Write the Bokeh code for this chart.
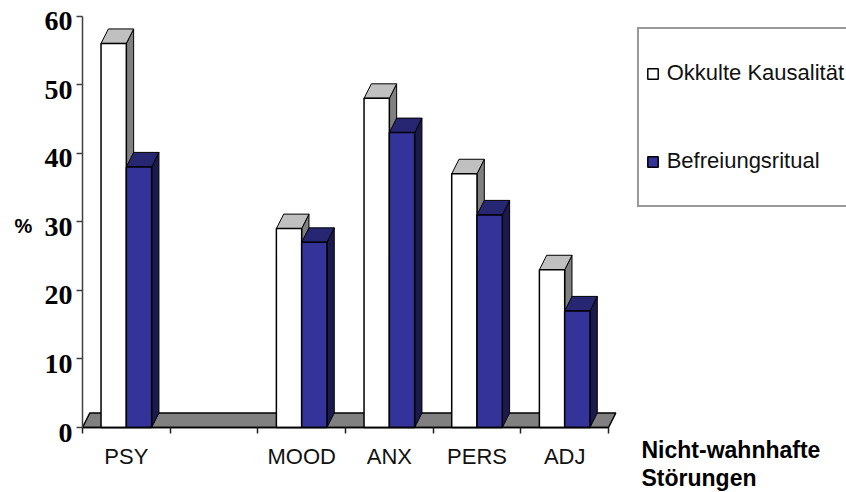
from bokeh.plotting import figure
from bokeh.embed import file_html
from bokeh.resources import INLINE
from bokeh.models import (Range1d, LinearAxis, FixedTicker, Label, Legend, LegendItem,
                          CustomJSTickFormatter)

categories = ["PSY", "", "MOOD", "ANX", "PERS", "ADJ"]
okkulte = [56, None, 29, 48, 37, 23]
befreiung = [38, None, 27, 43, 31, 17]
y_ticks = [0, 10, 20, 30, 40, 50, 60]
series_names = ["Okkulte Kausalität", "Befreiungsritual"]

PX_X = 87.67
PX_Y = 6.858
DX = 7.3 / PX_X
DY = 14.5 / PX_Y
BW = 25.3 / PX_X

W, H = 846, 492
left, bottom = 82, 65          # pixels left of / below the chart's origin

p = figure(width=W, height=H, output_backend="svg", toolbar_location=None,
           x_range=Range1d(-left / PX_X, (W - left) / PX_X),
           y_range=Range1d(-bottom / PX_Y, (H - bottom) / PX_Y),
           min_border=0, x_axis_type=None, y_axis_type=None, outline_line_color=None,
           background_fill_color="white", border_fill_color="white")
p.xgrid.visible = False
p.ygrid.visible = False
p.extra_y_ranges = {"labels": Range1d((5 - bottom) / PX_Y, (5 + H - bottom) / PX_Y)}

# y axis: line and ticks
ya = LinearAxis(ticker=FixedTicker(ticks=y_ticks), bounds=(0, 60), fixed_location=0,
                formatter=CustomJSTickFormatter(code="return ''"),
                major_tick_out=6, major_tick_in=0, minor_tick_out=0, minor_tick_in=0,
                major_label_standoff=0, axis_line_color="#404040", axis_line_width=1.5,
                major_tick_line_color="#404040", major_tick_line_width=1.5)
p.add_layout(ya, "left")
# y axis: tick labels, set slightly below their ticks as in the reference
yl = LinearAxis(y_range_name="labels", ticker=FixedTicker(ticks=y_ticks), fixed_location=0,
                axis_line_color=None, major_tick_line_color=None, minor_tick_line_color=None,
                major_tick_out=0, major_tick_in=0, minor_tick_out=0, minor_tick_in=0,
                major_label_standoff=10, major_label_text_font="Liberation Serif",
                major_label_text_font_style="bold", major_label_text_font_size="28px",
                major_label_text_color="black")
p.add_layout(yl, "left")

# x axis: category boundaries as ticks, category names centred between them
centers = [i + 0.5 for i, c in enumerate(categories) if c]
xa = LinearAxis(ticker=FixedTicker(ticks=centers, minor_ticks=list(range(len(categories) + 1))),
                bounds=(0, len(categories)), fixed_location=0,
                major_label_overrides={i + 0.5: c for i, c in enumerate(categories) if c},
                major_tick_out=0, major_tick_in=0, minor_tick_out=6, minor_tick_in=0,
                minor_tick_line_color="#202020", minor_tick_line_width=1.5,
                axis_line_color="black", axis_line_width=1.5,
                major_label_standoff=10, major_label_text_font="Liberation Sans",
                major_label_text_font_size="22px", major_label_text_color="#111111")
p.add_layout(xa, "below")

n = len(categories)
p.patch([0, DX, n + DX, n], [0, DY, DY, 0], fill_color="#808080",
        line_color="black", line_width=1.5)


def bars(values, x0s, front, top, side):
    rows = [(x, v) for x, v in zip(x0s, values) if v is not None]
    p.patches([[x + BW, x + BW + DX, x + BW + DX, x + BW] for x, v in rows],
              [[0, DY, v + DY, v] for x, v in rows],
              fill_color=side, line_color="black", line_width=1)
    p.patches([[x, x + DX, x + BW + DX, x + BW] for x, v in rows],
              [[v, v + DY, v + DY, v] for x, v in rows],
              fill_color=top, line_color="black", line_width=1)
    return p.quad(left=[x for x, v in rows], right=[x + BW for x, v in rows],
                  bottom=0, top=[v for x, v in rows],
                  fill_color=front, line_color="black", line_width=1.5)


white = bars(okkulte, [i + 0.5 - BW for i in range(n)], "white", "#c0c0c0", "#808080")
blue = bars(befreiung, [i + 0.5 for i in range(n)], "#333399", "#262673", "#1a1a4d")

legend = Legend(items=[LegendItem(label=series_names[0], renderers=[white]),
                       LegendItem(label=series_names[1], renderers=[blue])],
                location=(636.7, H - 207), orientation="vertical", padding=7, margin=0,
                spacing=14, label_height=74, glyph_width=13, glyph_height=13,
                label_standoff=8, label_text_font="Liberation Sans",
                label_text_font_size="22px", label_text_color="#111111",
                border_line_color="#333333", border_line_width=2,
                background_fill_color="white", background_fill_alpha=1.0)
p.add_layout(legend)

# positions below are pixels measured from the canvas' lower-left corner
for txt, x, y, size in [("%", 14, H - 225, "20px"),
                        ("Nicht-wahnhafte", 641, H - 449.5, "23px"),
                        ("Störungen", 641, H - 477, "23px")]:
    p.add_layout(Label(x=x, y=y, x_units="screen", y_units="screen", text=txt,
                       text_font="Liberation Sans", text_font_style="bold",
                       text_font_size=size, text_color="black", text_baseline="middle",
                       text_align="left"))

open("out.html", "w").write(file_html(p, INLINE))
